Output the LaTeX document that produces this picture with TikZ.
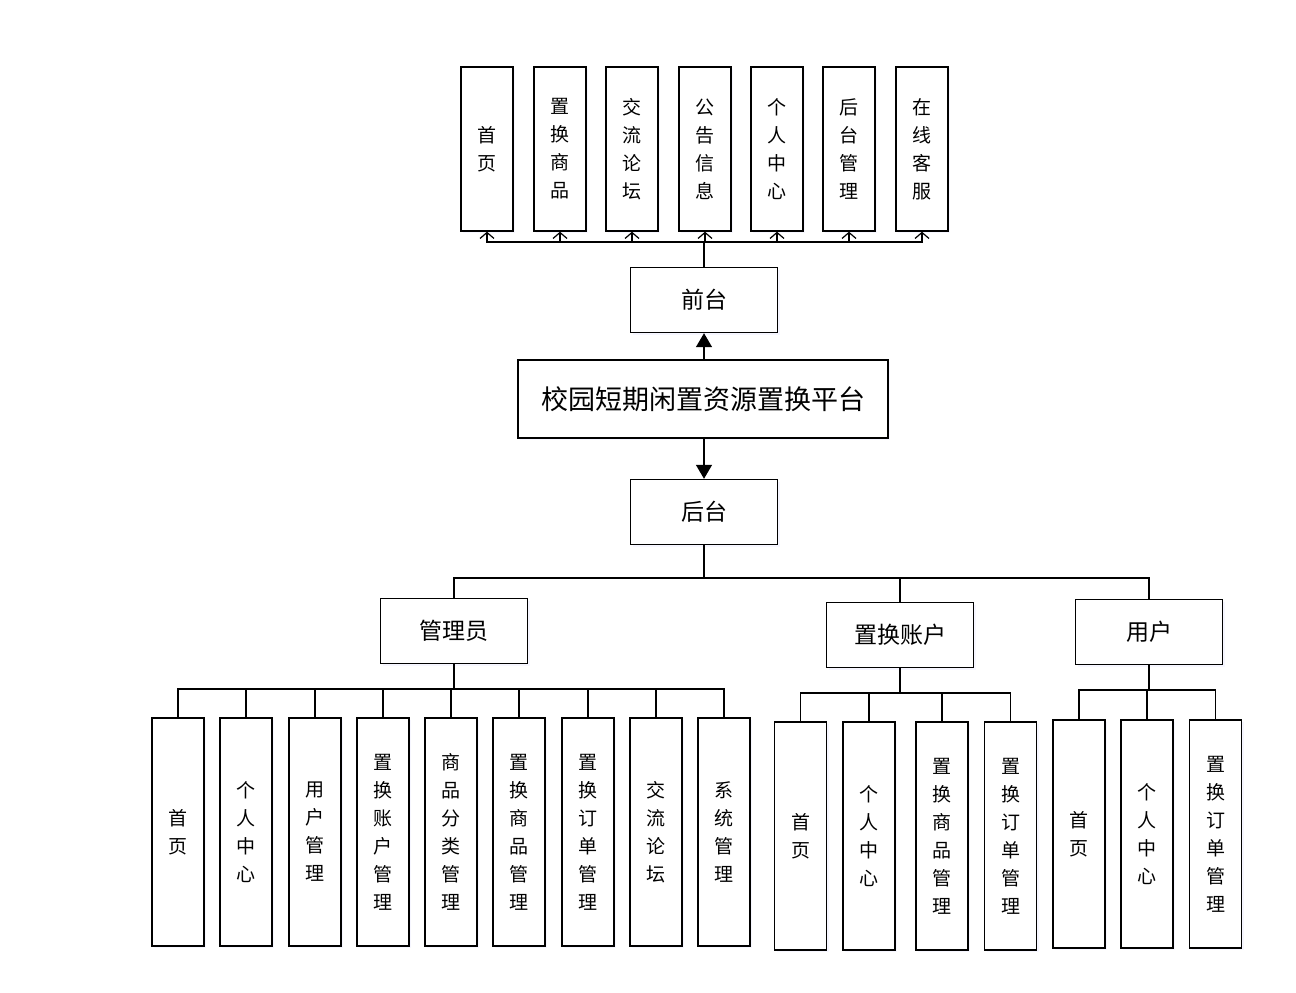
\documentclass[tikz,border=0pt]{standalone}
\usepackage{fontspec}
\newfontfamily\cjk{Noto Sans CJK SC}
\usetikzlibrary{arrows.meta,shadows}
\begin{document}
\begin{tikzpicture}[x=1pt,y=-1pt,
  base/.style={draw, line width=1.4pt, fill=white, inner sep=0pt, align=center,
    drop shadow={shadow xshift=2pt, shadow yshift=-2pt, opacity=0.12, fill=blue!30}},
  vbox/.style={base, minimum width=52pt, font=\cjk\fontsize{19}{28}\selectfont},
  topbox/.style={vbox, minimum height=164pt},
  lowbox/.style={vbox, minimum height=228pt},
  hbox/.style={base, minimum width=147pt, minimum height=65pt, font=\cjk\fontsize{23}{28}\selectfont},
  line/.style={line width=1.4pt},
  openarr/.style={line, -{Straight Barb[length=6pt,width=14pt,line width=1.2pt]}},
  fillarr/.style={line, -{Triangle[length=14pt,width=16pt]}}
]
\useasboundingbox (0,0) rectangle (1296,993);

% top row
\node[topbox] (t1) at (487,149) {首\\页};
\node[topbox] (t2) at (560,149) {置\\换\\商\\品};
\node[topbox] (t3) at (632,149) {交\\流\\论\\坛};
\node[topbox] (t4) at (705,149) {公\\告\\信\\息};
\node[topbox] (t5) at (777,149) {个\\人\\中\\心};
\node[topbox] (t6) at (849,149) {后\\台\\管\\理};
\node[topbox] (t7) at (922,149) {在\\线\\客\\服};

\node[hbox] (qt) at (704,300) {前台};
\node[base, minimum width=370pt, minimum height=78pt, font=\cjk\fontsize{27}{30}\selectfont] (main) at (703,399) {校园短期闲置资源置换平台};
\node[hbox] (ht) at (704,512) {后台};

\node[hbox] (gly) at (454,631) {管理员};
\node[hbox] (zh) at (900,635) {置换账户};
\node[hbox] (yh) at (1149,632) {用户};

% admin children
\node[lowbox] (a1) at (178,832) {首\\页};
\node[lowbox] (a2) at (246,832) {个\\人\\中\\心};
\node[lowbox] (a3) at (315,832) {用\\户\\管\\理};
\node[lowbox] (a4) at (383,832) {置\\换\\账\\户\\管\\理};
\node[lowbox] (a5) at (451,832) {商\\品\\分\\类\\管\\理};
\node[lowbox] (a6) at (519,832) {置\\换\\商\\品\\管\\理};
\node[lowbox] (a7) at (588,832) {置\\换\\订\\单\\管\\理};
\node[lowbox] (a8) at (656,832) {交\\流\\论\\坛};
\node[lowbox] (a9) at (724,832) {系\\统\\管\\理};

% swap account children
\node[lowbox] (s1) at (800.5,836) {首\\页};
\node[lowbox] (s2) at (869,836) {个\\人\\中\\心};
\node[lowbox] (s3) at (942,836) {置\\换\\商\\品\\管\\理};
\node[lowbox] (s4) at (1010.5,836) {置\\换\\订\\单\\管\\理};

% user children
\node[lowbox] (u1) at (1079,834) {首\\页};
\node[lowbox] (u2) at (1147,834) {个\\人\\中\\心};
\node[lowbox] (u3) at (1215.5,834) {置\\换\\订\\单\\管\\理};

% connectors
\draw[fillarr] (qt.south |- main.north) -- (qt.south);
\draw[fillarr] (ht.north |- main.south) -- (ht.north);

\coordinate (tb) at (705,242);
\draw[line] (qt.north) -- (qt.north |- tb);
\foreach \n in {t1,t2,t3,t4,t5,t6,t7}
  \draw[openarr] (qt.north |- tb) -| (\n.south);

\coordinate (hb) at (704,578);
\draw[line] (ht.south) -- (ht.south |- hb);
\foreach \n in {gly,zh,yh}
  \draw[line] (ht.south |- hb) -| (\n.north);

\coordinate (ab) at (454,689);
\draw[line] (gly.south) -- (gly.south |- ab);
\foreach \n in {a1,a2,a3,a4,a5,a6,a7,a8,a9}
  \draw[line] (gly.south |- ab) -| (\n.north);

\coordinate (sb) at (900,693);
\draw[line] (zh.south) -- (zh.south |- sb);
\foreach \n in {s1,s2,s3,s4}
  \draw[line] (zh.south |- sb) -| (\n.north);

\coordinate (ub) at (1149,690);
\draw[line] (yh.south) -- (yh.south |- ub);
\foreach \n in {u1,u2,u3}
  \draw[line] (yh.south |- ub) -| (\n.north);
\end{tikzpicture}
\end{document}
